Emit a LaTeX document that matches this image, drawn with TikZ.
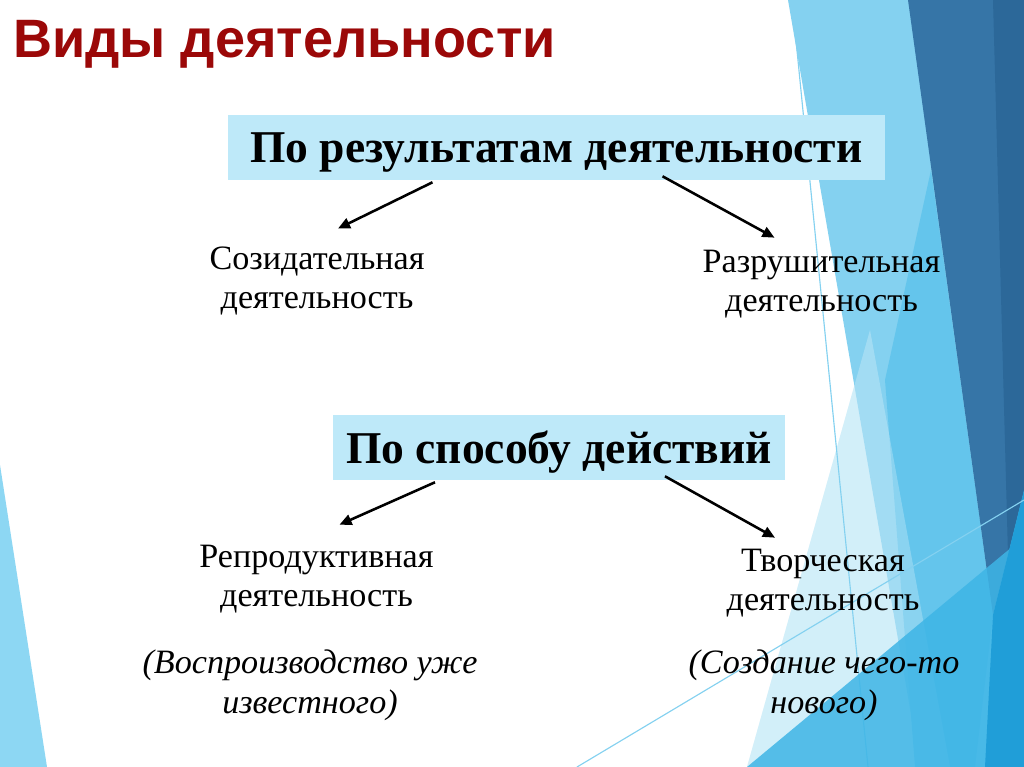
\documentclass[tikz,border=0pt]{standalone}
\usepackage{fontspec}
\setmainfont{Liberation Serif}
\newfontfamily\titlefont{Liberation Sans}
\definecolor{titlered}{RGB}{155, 8, 8}
\definecolor{boxcyan}{RGB}{190, 233, 249}
\definecolor{leftcyan}{RGB}{141, 215, 243}
\definecolor{bandpale}{RGB}{196, 234, 248}
\definecolor{bandlight}{RGB}{132, 209, 240}
\definecolor{bandmedium}{RGB}{100, 197, 236}
\definecolor{banddark}{RGB}{54, 117, 167}
\definecolor{bandnavy}{RGB}{44, 104, 153}
\definecolor{bandmid}{RGB}{62, 181, 230}
\definecolor{bandblue}{RGB}{32, 158, 216}
\usetikzlibrary{arrows.meta, calc}

\begin{document}
\begin{tikzpicture}[x=0.703125pt, y=-0.703125pt,
  catbox/.style={fill=boxcyan, inner sep=0pt, text depth=0pt, minimum height=45.7pt, font=\fontsize{32}{36}\selectfont\bfseries},
  leaf/.style={align=center, inner sep=0pt, font=\fontsize{24}{27.5}\selectfont},
  note/.style={align=center, inner sep=0pt, font=\fontsize{24}{28}\selectfont\itshape},
  branch/.style={-{Triangle[length=8.5pt, width=7.5pt]}, line width=1.8pt}]
  \useasboundingbox (0,0) rectangle (1024,767);

  % Background facets
  \fill[white] (0,0) rectangle (1024,767);
  \fill[leftcyan] (0,465) -- (47,767) -- (0,767) -- cycle;
  \fill[bandpale] (870,330) -- (950,767) -- (747,767) -- cycle;
  \fill[bandlight] (788,0) -- (1024,0) -- (1024,767) -- (920,767) -- cycle;
  \fill[bandmedium] (931,170) -- (993,615) -- (975,767) -- (915,767) -- (885,380) -- cycle;
  \fill[white, opacity=0.25] (870,330) -- (950,767) -- (747,767) -- cycle;
  \draw[bandlight, line width=0.8pt] (792,0) -- (868,767);
  \fill[banddark] (908,0) -- (1024,0) -- (1024,490) -- (993,615) -- cycle;
  \fill[bandnavy] (993,0) -- (1024,0) -- (1024,490) -- (1008,555) -- cycle;
  \fill[bandmid, opacity=0.85] (747,767) -- (1024,537) -- (1024,767) -- cycle;
  \fill[bandblue] (993,615) -- (1024,490) -- (1024,767) -- (985,767) -- cycle;
  \draw[bandlight, line width=0.8pt] (577,767) -- (1024,500);

  % Title
  \node[anchor=base west, inner sep=0pt, text=titlered, font=\titlefont\fontsize{38}{42}\selectfont\bfseries] (title) at (13, 58) {Виды деятельности};

  % By result
  \node[catbox, minimum width=462pt] (result) at (556.5, 147.5) {По результатам деятельности};
  \node[leaf] (create) at (317, 281) {Созидательная\\деятельность};
  \node[leaf] (destroy) at (821.5, 284) {Разрушительная\\деятельность};

  \draw[branch] ($(result.south)+(-124,2)$) -- ($(create.north)+(21,-18)$);
  \draw[branch] ($(result.south)+(106,-4)$) -- ($(destroy.north)+(-47,-12)$);

  % By way of acting
  \node[catbox, minimum width=317.8pt] (method) at (559, 447.5) {По способу действий};
  \node[leaf] (repro) at (316.5, 579) {Репродуктивная\\деятельность};
  \node[leaf] (creative) at (823, 583) {Творческая\\деятельность};

  \draw[branch] ($(method.south)+(-124,2)$) -- ($(repro.north)+(23,-20)$);
  \draw[branch] ($(method.south)+(106,-4)$) -- ($(creative.north)+(-48,-11)$);

  % Notes
  \node[note] (reproNote) at (310, 685) {(Воспроизводство уже\\известного)};
  \node[note] (creativeNote) at (824, 685) {(Создание чего-то\\нового)};
\end{tikzpicture}
\end{document}
